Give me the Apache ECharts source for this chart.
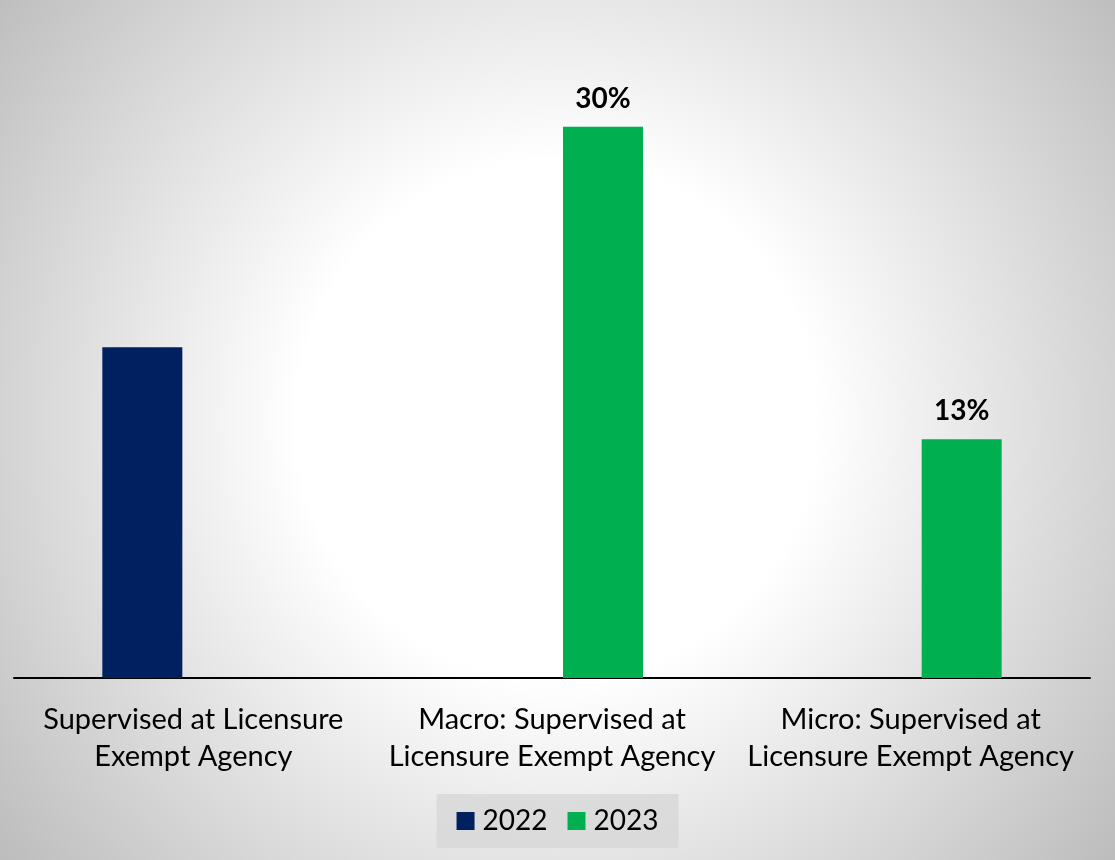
<!DOCTYPE html>
<html>
<head>
<meta charset="utf-8">
<script src="https://cdn.jsdelivr.net/npm/echarts@6/dist/echarts.min.js"></script>
<style>
html,body{margin:0;padding:0;}
#chart{width:1115px;height:860px;}
</style>
</head>
<body>
<div id="chart"></div>
<script>
const categories = [
  "Supervised at Licensure\nExempt Agency",
  "Macro: Supervised at\nLicensure Exempt Agency",
  "Micro: Supervised at\nLicensure Exempt Agency"
];
const seriesNames = ["2022", "2023"];
const values2022 = [18, null, null];
const values2023 = [null, 30, 13];

const FONT = "Lato, 'Open Sans', sans-serif";
const chart = echarts.init(document.getElementById('chart'));
chart.setOption({
  animation: false,
  backgroundColor: {
    type: 'radial', x: 557, y: 420, r: 720, global: true,
    colorStops: [
      {offset: 0, color: '#ffffff'},
      {offset: 0.36, color: '#ffffff'},
      {offset: 1, color: '#bbbbbb'}
    ]
  },
  grid: {left: 14, right: 25, top: 35, bottom: 182, containLabel: false},
  xAxis: {
    type: 'category',
    data: categories,
    axisLine: {lineStyle: {color: '#000', width: 2}},
    axisTick: {show: false},
    axisLabel: {
      color: '#000', fontSize: 29, fontFamily: FONT, lineHeight: 37,
      margin: 23, interval: 0, align: 'center'
    }
  },
  yAxis: {
    type: 'value', min: 0, max: 35,
    show: false, splitLine: {show: false}
  },
  legend: {
    data: seriesNames,
    left: 'center', top: 794,
    backgroundColor: 'rgba(215,215,215,0.8)',
    padding: [13, 20],
    itemWidth: 18, itemHeight: 18, itemGap: 20,
    icon: 'rect',
    textStyle: {color: '#000', fontSize: 28, fontFamily: FONT, padding: [0, 0, 0, 3]}
  },
  series: [
    {
      name: seriesNames[0], type: 'bar', data: values2022,
      barWidth: 80, barGap: '27.5%',
      itemStyle: {color: '#002060'},
      label: {show: false}
    },
    {
      name: seriesNames[1], type: 'bar', data: values2023,
      barWidth: 80, barGap: '27.5%',
      itemStyle: {color: '#00B050'},
      label: {
        show: true, position: 'top', distance: 14,
        color: '#000', fontSize: 28, fontWeight: 'bold', fontFamily: FONT,
        formatter: p => p.value + '%'
      }
    }
  ]
});
</script>
</body>
</html>
